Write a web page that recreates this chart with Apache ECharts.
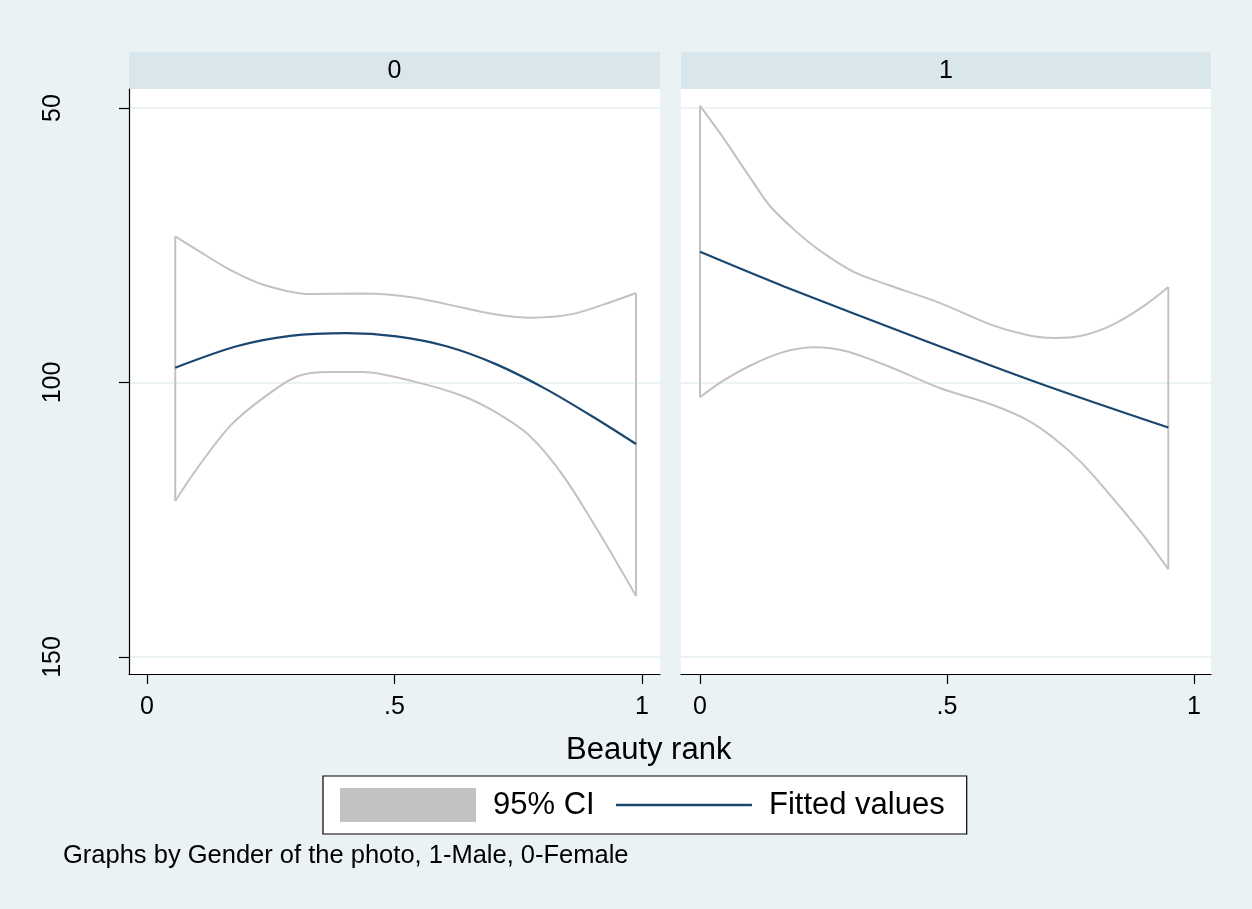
<!DOCTYPE html>
<html>
<head>
<meta charset="utf-8">
<script src="https://cdn.jsdelivr.net/npm/echarts@6/dist/echarts.min.js"></script>
<style>
html,body{margin:0;padding:0;background:#eaf2f3;}
#chart{width:1252px;height:909px;}
</style>
</head>
<body>
<div id="chart"></div>
<script>
// ---- data ----
const panelLabels = ['0', '1'];
const xTicks = [0, 0.5, 1];
const xTickLabels = ['0', '.5', '1'];
const yTicks = [50, 100, 150];
const yTickLabels = ['50', '100', '150'];
const legendLabels = ['95% CI', 'Fitted values'];
const xTitle = 'Beauty rank';
const note = 'Graphs by Gender of the photo, 1-Male, 0-Female';

// panel 0 (Female)
const fit0 = [[0.057,97.3],[0.181,93.4],[0.289,91.5],[0.403,91.0],[0.504,91.6],[0.605,93.4],[0.706,96.7],[0.808,101.3],[0.909,106.7],[0.988,111.2]];
const upper0 = [[0.057,73.4],[0.100,75.8],[0.168,79.5],[0.235,82.2],[0.329,83.9],[0.437,83.8],[0.538,84.5],[0.639,86.4],[0.706,87.6],[0.774,88.2],[0.861,87.5],[0.942,85.2],[0.988,83.7]];
const lower0 = [[0.057,121.6],[0.100,115.8],[0.168,107.9],[0.235,102.8],[0.303,98.9],[0.370,98.1],[0.437,98.1],[0.538,99.8],[0.639,102.5],[0.706,105.5],[0.774,109.8],[0.841,117.0],[0.909,126.7],[0.988,138.9]];

// panel 1 (Male)
const fit1 = [[0.0,76.2],[0.170,82.5],[0.450,92.2],[0.695,100.4],[0.948,108.2]];
const upper1 = [[0.0,49.6],[0.043,54.9],[0.100,62.5],[0.142,67.9],[0.191,72.2],[0.240,75.8],[0.310,79.8],[0.380,82.2],[0.485,85.5],[0.590,89.5],[0.660,91.3],[0.716,91.9],[0.772,91.5],[0.835,89.5],[0.898,86.1],[0.948,82.6]];
const lower1 = [[0.0,102.7],[0.043,99.9],[0.100,97.0],[0.163,94.6],[0.233,93.6],[0.296,94.3],[0.380,97.0],[0.485,101.0],[0.590,104.0],[0.660,106.7],[0.716,110.1],[0.772,114.6],[0.835,121.0],[0.898,127.9],[0.948,134.0]];

// ---- styling ----
const FONT = 'Liberation Sans, Arial, Helvetica, sans-serif';
const CI_COLOR = '#c2c2c2';
const FIT_COLOR = '#1a476f';
const GRID_LINE = '#e6eff1';

const chart = echarts.init(document.getElementById('chart'), null, {renderer: 'canvas'});

function xAxisFor(i, min, max) {
  return {
    type: 'value', gridIndex: i, min: min, max: max,
    axisLine: {show: true, onZero: false, lineStyle: {color: '#000', width: 1.2}},
    axisTick: {show: true, length: 10, customValues: xTicks, lineStyle: {color: '#000', width: 1.2}},
    axisLabel: {show: true, customValues: xTicks, margin: 21, fontSize: 25, color: '#000', fontFamily: FONT,
      formatter: v => xTickLabels[xTicks.indexOf(v)] ?? ''},
    splitLine: {show: false}
  };
}
function yAxisFor(i, showLabels) {
  return {
    type: 'value', gridIndex: i, inverse: true, min: 46.54, max: 153.1,
    axisLine: {show: showLabels, onZero: false, lineStyle: {color: '#000', width: 1.2}},
    axisTick: {show: showLabels, length: 10, customValues: yTicks, lineStyle: {color: '#000', width: 1.2}},
    axisLabel: {show: showLabels, customValues: yTicks, rotate: 90, margin: 63, fontSize: 25, color: '#000', fontFamily: FONT,
      formatter: v => yTickLabels[yTicks.indexOf(v)] ?? ''},
    splitLine: {show: true, lineStyle: {color: GRID_LINE, width: 1.5}}
  };
}

function ciSeries(data, gi) {
  return {name: legendLabels[0], type: 'line', xAxisIndex: gi, yAxisIndex: gi, data: data,
    smooth: 0.3, symbol: 'none', color: CI_COLOR, lineStyle: {color: CI_COLOR, width: 2}, silent: true, z: 2};
}
function endSeries(up, lo, gi) {
  const segs = [[up[0], lo[0]], [up[up.length-1], lo[lo.length-1]]];
  return segs.map(s => ({name: legendLabels[0], type: 'line', xAxisIndex: gi, yAxisIndex: gi, data: s,
    symbol: 'none', color: CI_COLOR, lineStyle: {color: CI_COLOR, width: 2}, silent: true, z: 2}));
}
function fitSeries(data, gi) {
  return {name: legendLabels[1], type: 'line', xAxisIndex: gi, yAxisIndex: gi, data: data,
    smooth: 0.3, symbol: 'none', color: FIT_COLOR, lineStyle: {color: FIT_COLOR, width: 2.2}, silent: true, z: 3};
}

const grids = [
  {left: 129, top: 89, width: 531, height: 585},
  {left: 681, top: 89, width: 530, height: 585}
];

const option = {
  backgroundColor: '#eaf2f3',
  animation: false,
  grid: grids.map(g => Object.assign({show: true, backgroundColor: '#ffffff', borderWidth: 0, containLabel: false}, g)),
  xAxis: [xAxisFor(0, -0.0364, 1.0364), xAxisFor(1, -0.0385, 1.0344)],
  yAxis: [yAxisFor(0, true), yAxisFor(1, false)],
  title: [
    {text: xTitle, left: 561, top: 730, textStyle: {fontSize: 31, fontWeight: 'normal', color: '#000', fontFamily: FONT}},
    {text: note, left: 58, top: 838, textStyle: {fontSize: 25.5, fontWeight: 'normal', color: '#000', fontFamily: FONT}}
  ],
  legend: {
    left: 323, top: 776,
    orient: 'horizontal',
    backgroundColor: '#ffffff', borderColor: '#000', borderWidth: 1.2, borderRadius: 0,
    padding: [12, 22, 12, 17],
    itemWidth: 136, itemHeight: 34, itemGap: 20,
    selectedMode: false,
    textStyle: {fontSize: 31, color: '#000', fontFamily: FONT, padding: [0, 0, 0, 12]},
    data: [
      {name: legendLabels[0], icon: 'rect', itemStyle: {color: CI_COLOR, borderWidth: 0}},
      {name: legendLabels[1], itemStyle: {opacity: 0}, lineStyle: {width: 2.6, color: FIT_COLOR}}
    ]
  },
  graphic: [
    {type: 'rect', shape: {x: 129, y: 52, width: 531, height: 37}, style: {fill: '#d9e6ec'}, silent: true},
    {type: 'rect', shape: {x: 681, y: 52, width: 530, height: 37}, style: {fill: '#d9e6ec'}, silent: true},
    {type: 'text', x: 129 + 531/2, y: 71, style: {text: panelLabels[0], fontSize: 25, fontFamily: FONT, fill: '#000', textAlign: 'center', textVerticalAlign: 'middle'}, silent: true},
    {type: 'text', x: 681 + 530/2, y: 71, style: {text: panelLabels[1], fontSize: 25, fontFamily: FONT, fill: '#000', textAlign: 'center', textVerticalAlign: 'middle'}, silent: true}
  ],
  series: [
    ciSeries(upper0, 0), ciSeries(lower0, 0), ...endSeries(upper0, lower0, 0), fitSeries(fit0, 0),
    ciSeries(upper1, 1), ciSeries(lower1, 1), ...endSeries(upper1, lower1, 1), fitSeries(fit1, 1)
  ]
};
chart.setOption(option);
</script>
</body>
</html>
